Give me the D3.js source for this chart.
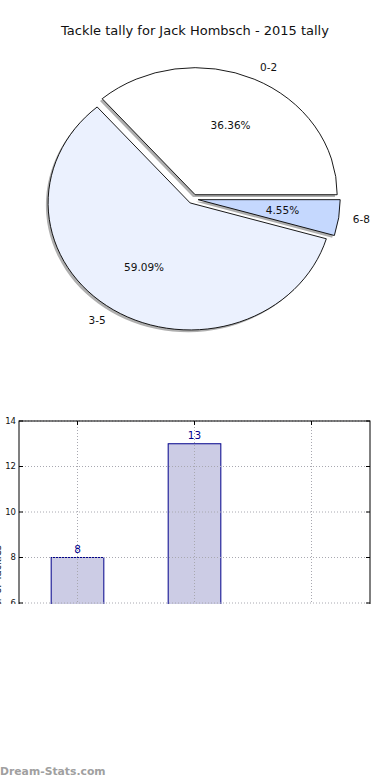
<!DOCTYPE html>
<html><head><meta charset="utf-8">
<script src="https://cdn.jsdelivr.net/npm/d3@7"></script>
<style>
html,body{margin:0;padding:0;background:#fff;}
svg{display:block;}
text{font-family:"DejaVu Sans",sans-serif;}
</style></head>
<body>
<svg id="c" width="390" height="780"></svg>
<script>
const title = "Tackle tally for Jack Hombsch - 2015 tally";
const categories = ["0-2", "3-5", "6-8"];
const tackles = [8, 13, 1];
const yTicks = [0, 2, 4, 6, 8, 10, 12, 14];
const watermark = "Dream-Stats.com";

const pieColors = ["#ffffff", "#ebf1fe", "#c5d8fe"];

const svg = d3.select("#c");
svg.append("rect").attr("width", 390).attr("height", 780).attr("fill", "#fff");

// Title
svg.append("text").attr("x", 195).attr("y", 35).attr("text-anchor", "middle")
  .attr("font-size", 13).attr("fill", "#111").text(title);

// ---------- Pie ----------
const cx = 193, cy = 199, rx = 142, ry = 127, explode = 0.037;
const total = d3.sum(tackles);
const pie = d3.pie().sort(null).startAngle(Math.PI / 2).endAngle(Math.PI / 2 - 2 * Math.PI);
const arcs = pie(tackles);
const arcGen = d3.arc().innerRadius(0).outerRadius(1);

const pg = svg.append("g");
function offsetOf(a) {
  const m = (a.startAngle + a.endAngle) / 2;
  return [Math.sin(m) * rx * explode, -Math.cos(m) * ry * explode];
}
// shadows
arcs.forEach(a => {
  const [ox, oy] = offsetOf(a);
  pg.append("path").attr("d", arcGen(a))
    .attr("transform", `translate(${cx + ox - 2.2},${cy + oy + 2.2}) scale(${rx},${ry})`)
    .attr("fill", "#4d4d4d").attr("fill-opacity", 0.45);
});
arcs.forEach((a, i) => {
  const [ox, oy] = offsetOf(a);
  pg.append("path").attr("d", arcGen(a))
    .attr("transform", `translate(${cx + ox},${cy + oy}) scale(${rx},${ry})`)
    .attr("fill", pieColors[i]).attr("stroke", "#000").attr("stroke-width", 0.9)
    .attr("vector-effect", "non-scaling-stroke").attr("stroke-linejoin", "miter");
});
arcs.forEach((a, i) => {
  const [ox, oy] = offsetOf(a);
  const m = (a.startAngle + a.endAngle) / 2;
  const sx = Math.sin(m), sy = -Math.cos(m);
  const lx = cx + ox + 1.1 * rx * sx, ly = cy + oy + 1.1 * ry * sy;
  pg.append("text").attr("x", lx).attr("y", ly).attr("dy", "0.35em")
    .attr("text-anchor", sx > 0 ? "start" : "end").attr("font-size", 10.5).attr("fill", "#111")
    .text(categories[i]);
  const px = cx + ox + 0.6 * rx * sx, py = cy + oy + 0.6 * ry * sy;
  pg.append("text").attr("x", px).attr("y", py).attr("dy", "0.35em")
    .attr("text-anchor", "middle").attr("font-size", 10.5).attr("fill", "#111")
    .text((a.value / total * 100).toFixed(2) + "%");
});

// ---------- Bar chart ----------
const L = 19, R = 370, T = 421, B = 739.5, CUT = 604;
svg.append("defs").append("clipPath").attr("id", "cut")
  .append("rect").attr("x", 0).attr("y", 0).attr("width", 390).attr("height", CUT);
const bg = svg.append("g").attr("clip-path", "url(#cut)");
const x = d3.scaleLinear().domain([-0.5, categories.length - 0.5]).range([L, R]);
const y = d3.scaleLinear().domain([0, 14]).range([B, T]);
const bw = 0.45;

// bars
bg.append("g").selectAll("rect").data(tackles).join("rect")
  .attr("x", (d, i) => x(i - bw / 2)).attr("width", x(bw) - x(0))
  .attr("y", d => y(d)).attr("height", d => y(0) - y(d))
  .attr("fill", "#cccce5").attr("stroke", "#00008b").attr("stroke-width", 1);

// grid (drawn on top, dotted)
bg.append("g").selectAll("line").data(categories).join("line")
  .attr("x1", (d, i) => x(i)).attr("x2", (d, i) => x(i)).attr("y1", T).attr("y2", B)
  .attr("stroke", "#a8a8b0").attr("stroke-width", 1).attr("stroke-dasharray", "1,2");
bg.append("g").selectAll("line").data(yTicks).join("line")
  .attr("x1", L).attr("x2", R).attr("y1", d => y(d)).attr("y2", d => y(d))
  .attr("stroke", "#a8a8b0").attr("stroke-width", 1).attr("stroke-dasharray", "1,2");

// value labels
bg.append("g").selectAll("text").data(tackles).join("text")
  .attr("x", (d, i) => x(i)).attr("y", d => y(d) - 5)
  .attr("text-anchor", "middle").attr("font-size", 10.5).attr("fill", "#00008b")
  .text(d => d);

// frame
bg.append("rect").attr("x", L).attr("y", T).attr("width", R - L).attr("height", B - T)
  .attr("fill", "none").attr("stroke", "#000").attr("stroke-width", 1);

// ticks (inward)
bg.append("g").selectAll("path").data(yTicks).join("path")
  .attr("d", d => `M${L},${y(d)}h4M${R},${y(d)}h-4`).attr("stroke", "#000");
bg.append("g").selectAll("path").data(categories).join("path")
  .attr("d", (d, i) => `M${x(i)},${T}v4M${x(i)},${B}v-4`).attr("stroke", "#000");

// y tick labels
bg.append("g").selectAll("text").data(yTicks).join("text")
  .attr("x", L - 3).attr("y", d => y(d)).attr("dy", "0.35em")
  .attr("text-anchor", "end").attr("font-size", 8.5)
  .attr("font-family", "'DejaVu Sans Condensed','DejaVu Sans',sans-serif")
  .attr("fill", "#111").text(d => d);

// y axis label (mostly off canvas, as in the reference)
bg.append("text").attr("transform", `translate(1,545) rotate(-90)`)
  .attr("text-anchor", "end").attr("font-size", 10).attr("fill", "#111")
  .text("Number of Tackles");

// watermark
svg.append("text").attr("x", 0).attr("y", 775)
  .attr("font-family", "'Open Sans',sans-serif").attr("font-weight", 600)
  .attr("font-size", 10.8).attr("fill", "#a0a0a0").text(watermark);
</script>
</body></html>
